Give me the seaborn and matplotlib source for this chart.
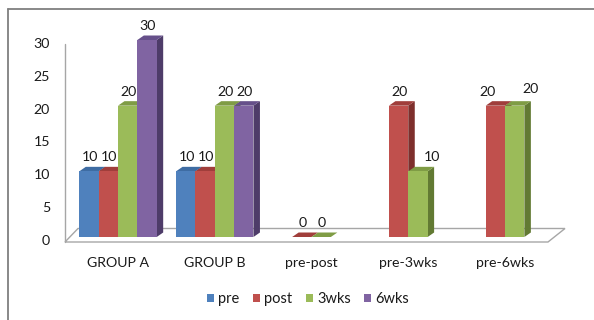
import pandas as pd
import seaborn as sns
import matplotlib
matplotlib.use("Agg")
import matplotlib.pyplot as plt
from matplotlib.patches import Polygon, Patch
from matplotlib.lines import Line2D
from matplotlib.transforms import IdentityTransform, ScaledTranslation

# ---- data -------------------------------------------------------------
groups = ["GROUP A", "GROUP B", "pre-post", "pre-3wks", "pre-6wks"]
series = ["pre", "post", "3wks", "6wks"]
pre_vals = [10, 10, None, None, None]
post_vals = [10, 10, 0, 20, 20]
wk3_vals = [20, 20, 0, 10, 20]
wk6_vals = [30, 20, None, None, None]
y_ticks = [0, 5, 10, 15, 20, 25, 30]

# ---- styling ----------------------------------------------------------
front_colors = ["#4F81BD", "#C0504D", "#9BBB59", "#8064A2"]
top_colors = ["#3E6CA3", "#A03E3B", "#7F9C45", "#66508A"]
side_colors = ["#345B8A", "#7E2F2C", "#627A33", "#4E3C69"]
text_color = "#1A1A1A"
grid_gray = "#A6A6A6"
FS = 10.2

# label nudges (pixels) where neighbouring labels would collide
label_dx = {("pre-3wks", "3wks"): 13, ("pre-6wks", "post"): -9, ("pre-6wks", "3wks"): 15}
label_dy = {("pre-6wks", "3wks"): 3}

rows = []
for name, vals in zip(series, [pre_vals, post_vals, wk3_vals, wk6_vals]):
    for g, v in zip(groups, vals):
        if v is not None:
            rows.append({"group": g, "series": name, "value": v})
df = pd.DataFrame(rows)

sns.set_theme(style="white")
plt.rcParams["font.family"] = ["Lato", "DejaVu Sans"]

DPI = 100
W, H = 594, 320
fig = plt.figure(figsize=(W / DPI, H / DPI), dpi=DPI, facecolor="white")

# axes frame = plane of the bar front faces (pixels from top-left)
ax_l, ax_r = 69.6, 553.4
ax_b, ax_t = 237.0, 40.0
ax = fig.add_axes([ax_l / W, 1 - ax_b / H, (ax_r - ax_l) / W, (ax_b - ax_t) / H])

sns.barplot(data=df, x="group", y="value", hue="series", order=groups,
            hue_order=series, palette=front_colors, saturation=1, width=0.8,
            edgecolor="none", linewidth=0, legend=False, ax=ax, zorder=3)
ax.set_xlim(-0.5, 4.5)
ax.set_ylim(0, 30)
ax.set_autoscale_on(False)
ax.axis("off")

def px(x, y):
    return ax.transData.transform((x, y))

def shifted(dx_px, dy_px):
    return ax.transData + ScaledTranslation(dx_px / DPI, dy_px / DPI, fig.dpi_scale_trans)

# floor of the 3-D box
(L0x, L0y) = px(-0.5, 0)
(R0x, _) = px(4.5, 0)
floor = [(L0x - 4.6, L0y - 5), (R0x - 5.4, L0y - 5), (R0x + 11.6, L0y + 8.5), (L0x + 8.4, L0y + 8.5)]
ax.add_patch(Polygon(floor, closed=True, transform=IdentityTransform(), facecolor="white",
                     edgecolor=grid_gray, lw=1.0, zorder=0.5, clip_on=False))

# vertical value axis in the front plane
(_, T30y) = px(-0.5, 30)
ax.add_line(Line2D([L0x - 4.6, L0x - 4.6], [L0y - 5, T30y - 4], transform=IdentityTransform(),
                   color=grid_gray, lw=1.0, zorder=0.6, clip_on=False))
for v in y_ticks:
    ax.text(-0.5, v, f"{v}", transform=shifted(-19.6, -4), ha="right", va="center",
            fontsize=FS, color=text_color)

for i, g in enumerate(groups):
    ax.text(i, 0, g, transform=shifted(0, -26), ha="center", va="center",
            fontsize=FS, color=text_color)

# depth faces of each bar plus its value label
DX, DY = 6.5, 4.5
for ci, cont in enumerate(ax.containers):
    name = series[ci]
    for p in cont.patches:
        x0 = p.get_x()
        x1 = x0 + p.get_width()
        h = p.get_height()
        (X0, Y0) = px(x0, 0)
        (X1, Y1) = px(x1, h)
        side = [(X1, Y0), (X1, Y1), (X1 + DX, Y1 + DY), (X1 + DX, Y0 + DY)]
        top = [(X0, Y1), (X1, Y1), (X1 + DX, Y1 + DY), (X0 + DX, Y1 + DY)]
        ax.add_patch(Polygon(side, closed=True, transform=IdentityTransform(),
                             facecolor=side_colors[ci], edgecolor="none", zorder=1, clip_on=False))
        ax.add_patch(Polygon(top, closed=True, transform=IdentityTransform(),
                             facecolor=top_colors[ci], edgecolor="none", zorder=2, clip_on=False))
        g = groups[int(round(x0 + p.get_width() / 2))]
        dx = 1 + label_dx.get((g, name), 0)
        dy = 14 + label_dy.get((g, name), 0)
        ax.text(x0 + p.get_width() / 2, h, f"{h:g}", transform=shifted(dx, dy),
                ha="center", va="center", fontsize=FS, color=text_color, zorder=5)

ax.set_xlim(-0.5, 4.5)
ax.set_ylim(0, 30)

handles = [Patch(facecolor=c, edgecolor="none", label=s) for c, s in zip(front_colors, series)]
fig.legend(handles=handles, loc="center", bbox_to_anchor=(308 / W, 1 - 299 / H), ncol=4,
           frameon=False, fontsize=FS + 0.3, handlelength=0.5, handleheight=0.5,
           handletextpad=0.3, columnspacing=0.9, labelcolor=text_color)

# chart border
border = "#7F7F7F"
fig.add_artist(Line2D([7.5 / W, 7.5 / W], [0, 1 - 8.5 / H], transform=fig.transFigure, color=border, lw=1.3))
fig.add_artist(Line2D([7.5 / W, 1], [1 - 8.5 / H, 1 - 8.5 / H], transform=fig.transFigure, color=border, lw=1.3))

fig.savefig("out.png", dpi=DPI, facecolor="white")
